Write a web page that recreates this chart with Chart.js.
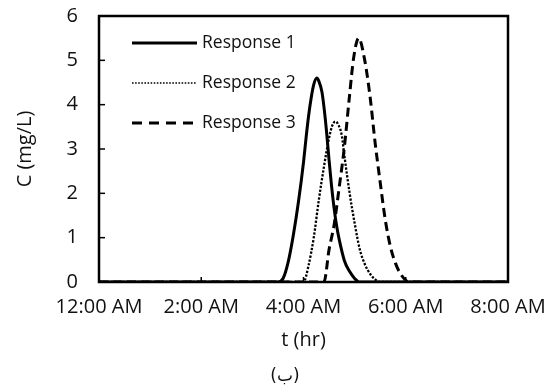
<!DOCTYPE html>
<html>
<head>
<meta charset="utf-8">
<script src="https://cdn.jsdelivr.net/npm/chart.js@4"></script>
<style>
  html, body { margin: 0; padding: 0; background: #fff; }
  canvas { display: block; }
</style>
</head>
<body>
<canvas id="myChart" width="547" height="391"></canvas>
<script>
// Data (time in hours, concentration in mg/L)
const seriesNames = ["Response 1", "Response 2", "Response 3"];

const r1Time = [0, 3.5, 3.6, 3.7, 3.8, 3.9, 4.0, 4.05, 4.1, 4.15, 4.2, 4.26, 4.3, 4.36, 4.4, 4.45, 4.5, 4.55, 4.6, 4.65, 4.7, 4.8, 4.9, 5.0, 5.1, 8];
const r1Conc = [0, 0, 0.08, 0.45, 1.05, 1.8, 2.7, 3.25, 3.75, 4.15, 4.45, 4.6, 4.53, 4.29, 3.95, 3.4, 2.75, 2.15, 1.65, 1.25, 0.95, 0.48, 0.24, 0.08, 0, 0];

const r2Time = [0, 4.0, 4.1, 4.2, 4.3, 4.4, 4.5, 4.56, 4.62, 4.68, 4.75, 4.8, 4.9, 5.0, 5.1, 5.2, 5.3, 5.4, 5.5, 8];
const r2Conc = [0, 0, 0.38, 1.0, 1.85, 2.6, 3.25, 3.52, 3.62, 3.55, 3.3, 2.85, 2.02, 1.33, 0.74, 0.4, 0.19, 0.06, 0, 0];

const r3Time = [0, 4.4, 4.5, 4.6, 4.7, 4.8, 4.9, 4.98, 5.08, 5.19, 5.3, 5.4, 5.5, 5.6, 5.7, 5.8, 5.9, 6.0, 6.05, 8];
const r3Conc = [0, 0, 0.73, 1.3, 2.15, 3.05, 4.2, 5.05, 5.5, 5.05, 4.2, 3.15, 2.25, 1.4, 0.8, 0.42, 0.18, 0.04, 0, 0];

const xTickLabels = ["12:00 AM", "2:00 AM", "4:00 AM", "6:00 AM", "8:00 AM"];
const yTickLabels = ["0", "1", "2", "3", "4", "5", "6"];

function toPoints(xs, ys) {
    return xs.map((t, i) => ({ x: t, y: ys[i] }));
}

Chart.defaults.font.family = "'Open Sans', sans-serif";
Chart.defaults.color = "#111";

// Inward ticks, box frame, legend inside plot and the caption
const framePlugin = {
    id: "frame",
    afterDatasetsDraw(chart) {
        const { ctx, chartArea: a, scales: { x, y } } = chart;
        ctx.save();
        ctx.strokeStyle = "#000";
        ctx.lineWidth = 1.5;
        y.ticks.forEach(t => {
            const py = y.getPixelForValue(t.value);
            ctx.beginPath();
            ctx.moveTo(a.left, py);
            ctx.lineTo(a.left + 6, py);
            ctx.stroke();
        });
        x.ticks.forEach(t => {
            const px = x.getPixelForValue(t.value);
            ctx.beginPath();
            ctx.moveTo(px, a.bottom);
            ctx.lineTo(px, a.bottom - 5);
            ctx.stroke();
        });
        ctx.lineWidth = 2.5;
        ctx.strokeRect(a.left, a.top, a.right - a.left, a.bottom - a.top);

        // legend
        const rows = [43, 83, 123];
        chart.data.datasets.forEach((ds, i) => {
            ctx.beginPath();
            ctx.lineWidth = ds.legendWidth;
            ctx.setLineDash(ds.legendDash);
            ctx.moveTo(132, rows[i]);
            ctx.lineTo(197, rows[i]);
            ctx.stroke();
            ctx.setLineDash([]);
            ctx.fillStyle = "#111";
            ctx.font = "17.5px 'Open Sans', sans-serif";
            ctx.textBaseline = "middle";
            ctx.textAlign = "left";
            ctx.fillText(ds.label, 202, rows[i]);
        });

        // caption under the chart
        ctx.font = "17px 'DejaVu Sans', sans-serif";
        ctx.textAlign = "center";
        ctx.fillText("(ب)", 285, 377);
        ctx.restore();
    }
};

const ctx = document.getElementById("myChart").getContext("2d");
const myChart = new Chart(ctx, {
    type: "line",
    data: {
        datasets: [
            {
                label: seriesNames[0],
                data: toPoints(r1Time, r1Conc),
                borderColor: "#000",
                borderWidth: 3,
                legendWidth: 3,
                legendDash: [],
                pointRadius: 0,
                cubicInterpolationMode: "monotone"
            },
            {
                label: seriesNames[1],
                data: toPoints(r2Time, r2Conc),
                borderColor: "#000",
                borderWidth: 2.3,
                borderDash: [2.3, 1.6],
                legendWidth: 1.6,
                legendDash: [1.6, 1.5],
                pointRadius: 0,
                cubicInterpolationMode: "monotone"
            },
            {
                label: seriesNames[2],
                data: toPoints(r3Time, r3Conc),
                borderColor: "#000",
                borderWidth: 3,
                borderDash: [9, 5],
                legendWidth: 3,
                legendDash: [10, 7],
                pointRadius: 0,
                cubicInterpolationMode: "monotone"
            }
        ]
    },
    options: {
        responsive: false,
        animation: false,
        devicePixelRatio: 1,
        layout: { padding: { left: 0, right: 39, top: 16, bottom: 25 } },
        plugins: {
            legend: { display: false },
            tooltip: { enabled: false }
        },
        scales: {
            x: {
                type: "linear",
                min: 0,
                max: 8,
                afterFit(scale) {
                    scale.height = 84;
                    scale.paddingLeft = 0;
                    scale.paddingRight = 0;
                },
                grid: { display: false, drawTicks: false },
                border: { display: false },
                ticks: {
                    stepSize: 2,
                    padding: 13,
                    maxRotation: 0,
                    font: { size: 20 },
                    callback: (v) => xTickLabels[v / 2]
                },
                title: {
                    display: true,
                    text: "t (hr)",
                    font: { size: 20 },
                    padding: { top: 0, bottom: 14 }
                }
            },
            y: {
                min: 0,
                max: 6,
                afterFit(scale) {
                    scale.width = 99;
                    scale.paddingTop = 0;
                    scale.paddingBottom = 0;
                },
                grid: { display: false, drawTicks: false },
                border: { display: false },
                ticks: {
                    stepSize: 1,
                    padding: 21,
                    font: { size: 20 },
                    callback: (v) => yTickLabels[v]
                },
                title: {
                    display: true,
                    text: "C (mg/L)",
                    font: { size: 20 },
                    padding: { top: 13, bottom: 0 }
                }
            }
        }
    },
    plugins: [framePlugin]
});
</script>
</body>
</html>
